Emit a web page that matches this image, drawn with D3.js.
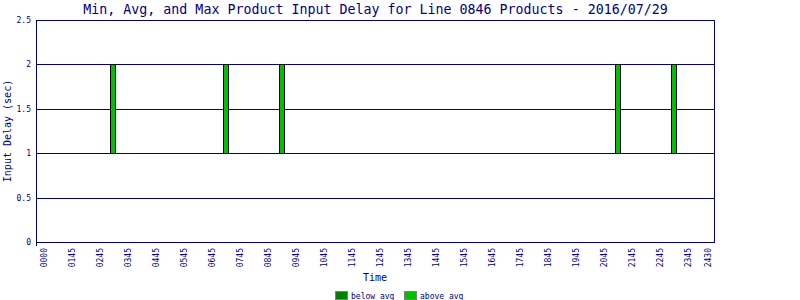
<!DOCTYPE html>
<html>
<head>
<meta charset="utf-8">
<script src="https://cdn.jsdelivr.net/npm/d3@7"></script>
<style>
  body { margin: 0; background: #fff; }
  svg { display: block; font-family: 'DejaVu Sans Mono', monospace; }
</style>
</head>
<body>
<div id="chart"></div>
<script>
// hour slot (center) of each product bar, with min / avg / max delay in seconds
const slots = [2.5, 6.5, 8.5, 20.5, 22.5];
const minDelay = [1, 1, 1, 1, 1];
const avgDelay = [1, 1, 1, 1, 1];
const maxDelay = [2, 2, 2, 2, 2];

const tickHours = [0, 1, 2, 3, 4, 5, 6, 7, 8, 9, 10, 11, 12, 13, 14, 15, 16, 17, 18, 19, 20, 21, 22, 23, 23.71];
const tickLabels = ['0000', '0145', '0245', '0345', '0445', '0545', '0645', '0745', '0845', '0945',
  '1045', '1145', '1245', '1345', '1445', '1545', '1645', '1745', '1845', '1945',
  '2045', '2145', '2245', '2345', '2430'];
const yTicks = [0, 0.5, 1, 1.5, 2, 2.5];

const navy = '#000080';
const width = 800, height = 300;
const margin = { top: 20, right: 85, bottom: 58, left: 36 };
const innerW = width - margin.left - margin.right;
const innerH = height - margin.top - margin.bottom;

const svg = d3.select('#chart').append('svg')
  .attr('width', width)
  .attr('height', height);

const g = svg.append('g')
  .attr('transform', `translate(${margin.left},${margin.top})`);

// scales
const x = d3.scaleLinear()
  .domain([-0.26, 23.96])
  .range([0, innerW]);

const y = d3.scaleLinear()
  .domain([0, 2.5])
  .range([innerH, 0]);

// grid lines
g.append('g')
  .selectAll('line')
  .data(yTicks.filter(d => d > 0 && d < 2.5))
  .join('line')
  .attr('x1', 0).attr('x2', innerW)
  .attr('y1', d => Math.round(y(d)) + 0.5)
  .attr('y2', d => Math.round(y(d)) + 0.5)
  .attr('stroke', navy);

// bars: below avg (min->avg) and above avg (avg->max)
const data = slots.map((s, i) => ({ slot: s, min: minDelay[i], avg: avgDelay[i], max: maxDelay[i] }));
const barW = 6;

g.append('g').selectAll('rect')
  .data(data.filter(d => d.avg > d.min))
  .join('rect')
  .attr('x', d => Math.round(x(d.slot) - barW / 2) + 0.5)
  .attr('y', d => Math.round(y(d.avg)) + 0.5)
  .attr('width', barW - 1)
  .attr('height', d => Math.round(y(d.min)) - Math.round(y(d.avg)))
  .attr('fill', '#008000')
  .attr('stroke', '#000');

g.append('g').selectAll('rect')
  .data(data)
  .join('rect')
  .attr('x', d => Math.round(x(d.slot) - barW / 2) + 0.5)
  .attr('y', d => Math.round(y(d.max)) + 0.5)
  .attr('width', barW - 1)
  .attr('height', d => Math.round(y(d.avg)) - Math.round(y(d.max)))
  .attr('fill', '#00c000')
  .attr('stroke', '#000');

// frame
g.append('rect')
  .attr('x', 0.5).attr('y', 0.5)
  .attr('width', innerW - 1).attr('height', innerH)
  .attr('fill', 'none')
  .attr('stroke', navy);

// y axis labels
const yAxis = g.append('g')
  .call(d3.axisLeft(y).tickValues(yTicks).tickSize(0).tickPadding(5).tickFormat(d3.format('')));
yAxis.select('.domain').remove();
yAxis.selectAll('text')
  .attr('fill', navy)
  .style('font-size', '8px')
  .style('font-family', 'DejaVu Sans Mono, monospace');

// x axis labels (rotated)
const xAxis = g.append('g')
  .attr('transform', `translate(0,${innerH})`)
  .call(d3.axisBottom(x).tickValues(tickHours).tickSize(0).tickFormat((d, i) => tickLabels[i]));
xAxis.select('.domain')
  .attr('d', `M0.5,0V4`)
  .attr('stroke', navy);
xAxis.selectAll('text')
  .attr('fill', navy)
  .attr('transform', 'rotate(-90)')
  .attr('x', -6)
  .attr('y', 0)
  .attr('dy', '0.35em')
  .attr('text-anchor', 'end')
  .style('font-size', '8px')
  .style('font-family', 'DejaVu Sans Mono, monospace');

// title
svg.append('text')
  .attr('x', margin.left + innerW / 2)
  .attr('y', 13.5)
  .attr('text-anchor', 'middle')
  .attr('fill', navy)
  .style('font-size', '13.3px')
  .text('Min, Avg, and Max Product Input Delay for Line 0846 Products - 2016/07/29');

// axis titles
svg.append('text')
  .attr('x', 375)
  .attr('y', 281)
  .attr('text-anchor', 'middle')
  .attr('fill', navy)
  .style('font-size', '10px')
  .text('Time');

svg.append('text')
  .attr('transform', `translate(11,${margin.top + innerH / 2}) rotate(-90)`)
  .attr('text-anchor', 'middle')
  .attr('fill', navy)
  .style('font-size', '10px')
  .text('Input Delay (sec)');

// legend
const legendItems = [
  { label: 'below avg', color: '#008000', x: 335 },
  { label: 'above avg', color: '#00c000', x: 404 }
];
const legend = svg.append('g').selectAll('g')
  .data(legendItems)
  .join('g')
  .attr('transform', d => `translate(${d.x},291)`);
legend.append('rect')
  .attr('x', 0.5).attr('y', 0.5)
  .attr('width', 12).attr('height', 8)
  .attr('fill', d => d.color)
  .attr('stroke', '#808080');
legend.append('text')
  .attr('x', 16)
  .attr('y', 7.5)
  .attr('fill', navy)
  .style('font-size', '8px')
  .text(d => d.label);
</script>
</body>
</html>
